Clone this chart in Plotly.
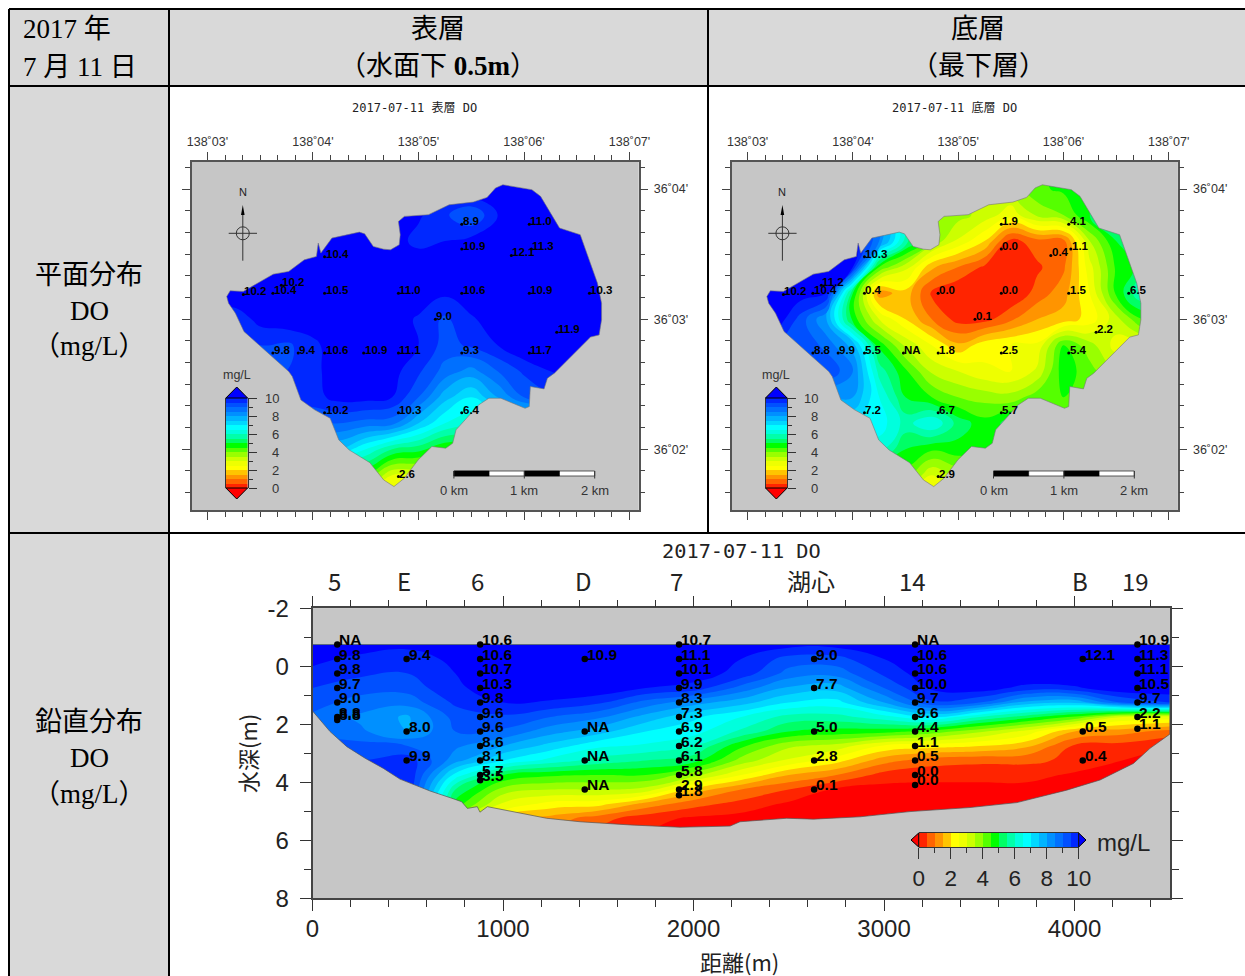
import plotly.graph_objects as go

W, H = 1245, 976

# ---------- data ----------
band_colors = ["#ff0000", "#ff2400", "#ff6400", "#ff9400", "#ffc400", "#ffff00", "#eeff00", "#ccff00",
               "#99ff00", "#55ff00", "#00ff00", "#00ff66", "#00ffaa", "#00ffdd", "#00ffff", "#00d8ff",
               "#00b4ff", "#0090ff", "#0070ff", "#0050ff", "#0028ff", "#0000ff"]
legend_levels = [0.25, 0.75, 1.25, 1.75, 2.25, 2.75, 3.25, 3.75, 4.25, 4.75, 5.25, 5.75, 6.25, 6.75,
                 7.25, 7.75, 8.25, 8.75, 9.25, 9.75]

grid_lon = [3.0, 3.25, 3.5, 3.75, 4.0, 4.25, 4.5, 4.75, 5.0, 5.25, 5.5, 5.75, 6.0, 6.25, 6.5, 6.75, 7.0]
grid_lat = [4.2, 4.0, 3.8, 3.6, 3.4, 3.2, 3.0, 2.8, 2.6, 2.4, 2.2, 2.0, 1.8, 1.6]

surface_grid = [
    [10.5, 10.5, 10.5, 10.5, 10.5, 10.5, 10.5, 10.5, 10.5, 10.5, 10.5, 10.5, 10.5, 10.5, 10.5, 10.5, 10.5],
    [10.5, 10.5, 10.5, 10.5, 10.5, 10.5, 10.5, 10.5, 10.5, 10.5, 10.5, 10.5, 10.5, 10.5, 10.5, 10.5, 10.5],
    [10.5, 10.5, 10.5, 10.5, 10.5, 10.5, 10.5, 10.5, 10.1, 9.6, 9.0, 10.0, 10.5, 10.5, 10.5, 10.5, 10.5],
    [10.5, 10.5, 10.5, 10.5, 10.5, 10.5, 10.5, 10.3, 9.8, 10.0, 10.2, 10.5, 10.5, 10.5, 10.5, 10.5, 10.5],
    [10.5, 10.5, 10.5, 10.5, 10.5, 10.5, 10.5, 10.5, 10.5, 10.5, 10.5, 10.5, 10.5, 10.5, 10.5, 10.5, 10.5],
    [10.5, 10.5, 10.5, 10.5, 10.5, 10.5, 10.5, 10.5, 10.5, 10.1, 10.5, 10.5, 10.5, 10.5, 10.5, 10.5, 10.5],
    [9.6, 9.6, 10.2, 10.4, 10.5, 10.5, 10.5, 10.4, 9.9, 9.4, 9.9, 10.4, 10.5, 10.5, 10.5, 10.5, 10.5],
    [9.4, 9.4, 9.5, 9.4, 9.8, 10.5, 10.5, 10.5, 10.0, 9.3, 9.6, 10.0, 10.5, 10.5, 10.5, 10.5, 10.5],
    [9.4, 9.4, 9.4, 9.5, 9.8, 10.4, 10.5, 10.2, 9.6, 8.8, 8.3, 9.0, 9.6, 10.0, 10.3, 10.5, 10.5],
    [9.6, 9.6, 9.6, 9.7, 9.8, 10.2, 10.2, 10.0, 9.0, 7.7, 7.0, 8.0, 9.0, 9.4, 9.5, 9.5, 9.5],
    [9.0, 9.0, 9.0, 9.0, 9.0, 9.0, 8.8, 8.7, 7.5, 6.5, 6.2, 6.5, 6.5, 6.5, 6.5, 6.5, 6.5],
    [7.5, 7.5, 7.5, 7.5, 7.5, 7.5, 6.5, 5.5, 5.2, 4.5, 4.5, 4.5, 4.5, 4.5, 4.5, 4.5, 4.5],
    [4.8, 4.8, 4.8, 4.8, 4.8, 4.8, 4.5, 3.0, 3.0, 3.0, 3.0, 3.0, 3.0, 3.0, 3.0, 3.0, 3.0],
    [2.5, 2.5, 2.5, 2.5, 2.5, 2.5, 2.5, 2.5, 2.5, 2.5, 2.5, 2.5, 2.5, 2.5, 2.5, 2.5, 2.5],
]

bottom_grid = [
    [10.5, 10.5, 10.5, 10.5, 10.5, 8.0, 5.0, 3.5, 3.5, 3.5, 3.5, 4.4, 4.6, 4.8, 5.0, 5.0, 5.0],
    [10.5, 10.5, 10.5, 10.5, 10.5, 8.0, 5.0, 3.6, 3.5, 3.5, 3.5, 4.4, 4.6, 4.8, 5.0, 5.0, 5.0],
    [10.5, 10.5, 10.5, 10.5, 10.5, 8.5, 5.5, 4.0, 3.7, 3.3, 2.7, 3.6, 4.0, 5.0, 5.5, 5.5, 5.5],
    [10.5, 10.5, 10.5, 10.5, 10.5, 8.5, 5.8, 3.9, 2.9, 2.0, 0.3, 0.8, 0.8, 3.5, 5.0, 5.5, 5.5],
    [11.0, 11.0, 11.0, 11.0, 10.0, 4.5, 3.2, 1.6, 1.0, 0.4, 0.1, 0.4, 0.9, 2.8, 4.6, 5.2, 5.2],
    [10.5, 10.5, 10.3, 10.0, 5.0, 1.2, 1.8, 0.4, 0.0, 0.1, 0.0, 0.7, 1.3, 2.5, 4.6, 6.0, 6.0],
    [10.5, 10.5, 9.3, 8.0, 4.8, 3.0, 2.0, 1.0, 0.3, 0.3, 0.9, 1.5, 1.7, 2.2, 3.3, 4.5, 4.5],
    [9.5, 9.5, 9.5, 8.8, 7.8, 4.8, 3.4, 2.5, 1.6, 2.3, 2.5, 2.6, 4.5, 3.7, 2.8, 2.8, 2.8],
    [9.5, 9.5, 9.5, 9.5, 8.5, 5.8, 4.6, 3.4, 3.0, 2.6, 2.5, 3.1, 4.8, 4.2, 3.5, 3.5, 3.5],
    [8.0, 8.0, 8.0, 8.0, 8.0, 6.5, 5.0, 4.5, 4.0, 3.8, 3.7, 4.3, 4.5, 4.5, 4.5, 4.5, 4.5],
    [7.0, 7.0, 7.0, 7.0, 7.0, 6.8, 5.8, 6.5, 5.3, 4.7, 5.2, 4.5, 4.5, 4.5, 4.5, 4.5, 4.5],
    [6.2, 6.2, 6.2, 6.2, 6.2, 6.2, 5.0, 4.6, 4.8, 4.7, 4.7, 4.7, 4.7, 4.7, 4.7, 4.7, 4.7],
    [4.3, 4.3, 4.3, 4.3, 4.3, 4.3, 4.3, 3.0, 3.6, 3.6, 3.6, 3.6, 3.6, 3.6, 3.6, 3.6, 3.6],
    [3.0, 3.0, 3.0, 3.0, 3.0, 3.0, 3.0, 3.0, 3.0, 3.0, 3.0, 3.0, 3.0, 3.0, 3.0, 3.0, 3.0],
]

lake_lon = [3.183, 3.216, 3.34, 3.50, 3.624, 3.77, 3.918, 4.033, 4.05, 4.075, 4.18, 4.44, 4.49, 4.572, 4.67,
            4.735, 4.817, 4.827, 4.81, 4.866, 5.095, 5.29, 5.52, 5.65, 5.73, 5.80, 6.075, 6.157, 6.337, 6.533,
            6.582, 6.696, 6.735, 6.735, 6.712, 6.63, 6.288, 6.222, 6.19, 6.06, 6.05, 6.01, 5.78, 5.667, 5.57,
            5.356, 5.324, 5.258, 5.127, 4.997, 4.866, 4.768, 4.67, 4.539, 4.343, 4.245, 4.163, 4.016, 3.886,
            3.804, 3.771, 3.592, 3.346, 3.265, 3.2, 3.183]
lake_lat = [3.174, 3.218, 3.213, 3.29, 3.346, 3.367, 3.456, 3.482, 3.585, 3.508, 3.623, 3.669, 3.656, 3.559, 3.538,
            3.533, 3.572, 3.649, 3.751, 3.79, 3.803, 3.879, 3.90, 3.936, 4.008, 4.033, 3.995, 3.944, 3.70, 3.649,
            3.533, 3.277, 3.123, 2.995, 2.879, 2.862, 2.585, 2.546, 2.464, 2.482, 2.328, 2.315, 2.392, 2.392, 2.341,
            2.149, 2.046, 2.008, 2.021, 1.918, 1.777, 1.713, 1.764, 1.897, 1.995, 2.072, 2.238, 2.303, 2.379,
            2.559, 2.597, 2.726, 2.905, 3.046, 3.123, 3.174]

station_lon = [3.34, 3.62, 3.70, 4.11, 4.11, 4.81, 5.41, 6.05, 6.62, 5.41, 6.05, 5.41, 6.07, 5.88,
               5.16, 6.31, 3.62, 3.86, 4.11, 4.48, 4.81, 5.41, 6.05, 4.11, 4.81, 5.41, 4.81]
station_lat = [3.19, 3.20, 3.26, 3.48, 3.20, 3.20, 3.20, 3.20, 3.20, 3.73, 3.73, 3.54, 3.54, 3.49,
               3.00, 2.90, 2.74, 2.74, 2.74, 2.74, 2.74, 2.74, 2.74, 2.28, 2.28, 2.28, 1.79]
surface_labels = ["10.2", "10.4", "10.2", "10.4", "10.5", "11.0", "10.6", "10.9", "10.3", "8.9", "11.0", "10.9",
                  "11.3", "12.1", "9.0", "11.9", "9.8", "9.4", "10.6", "10.9", "11.1", "9.3", "11.7", "10.2",
                  "10.3", "6.4", "2.6"]
bottom_labels = ["10.2", "10.4", "11.2", "10.3", "0.4", "0.0", "0.0", "1.5", "6.5", "1.9", "4.1", "0.0", "1.1",
                 "0.4", "0.1", "2.2", "8.8", "9.9", "5.5", "NA", "1.8", "2.5", "5.4", "7.2", "6.7", "5.7", "2.9"]

lon_ticks = [3, 4, 5, 6, 7]
lon_labels = ["138˚03'", "138˚04'", "138˚05'", "138˚06'", "138˚07'"]
lat_ticks = [2, 3, 4]
lat_labels = ["36˚02'", "36˚03'", "36˚04'"]

sec_x = [0, 250, 500, 750, 1000, 1250, 1500, 1750, 2000, 2250, 2500, 2750, 3000, 3250, 3500, 3750, 4000, 4250, 4500]
sec_depth = [-0.75, -0.25, 0.25, 0.75, 1.25, 1.75, 2.25, 2.75, 3.25, 3.75, 4.25, 4.75, 5.25, 5.75]
section_grid = [
    [10.3, 10.2, 10.2, 10.3, 10.5, 10.5, 10.5, 10.5, 10.5, 10.5, 10.2, 10.2, 10.5, 10.6, 10.6, 10.6, 10.6, 10.9, 10.9],
    [10.1, 9.9, 9.6, 10.2, 10.5, 10.5, 10.5, 10.5, 10.5, 10.0, 9.3, 9.3, 10.0, 10.6, 10.6, 10.6, 10.8, 11.0, 11.0],
    [9.9, 9.6, 9.5, 10.0, 10.5, 10.5, 10.5, 10.5, 10.3, 9.8, 8.8, 8.7, 9.6, 10.4, 10.6, 10.6, 10.6, 11.0, 10.8],
    [9.5, 9.2, 9.2, 9.9, 10.3, 10.5, 10.4, 10.0, 9.8, 8.8, 7.9, 7.7, 9.0, 10.1, 10.3, 9.8, 9.9, 10.4, 10.4],
    [9.2, 8.8, 8.7, 9.6, 10.0, 9.9, 9.6, 8.8, 8.2, 7.7, 7.0, 6.8, 8.0, 9.4, 9.0, 7.8, 7.6, 9.0, 9.5],
    [8.9, 8.4, 7.9, 9.2, 9.4, 9.0, 8.6, 7.8, 7.1, 6.5, 5.8, 5.8, 6.3, 7.0, 6.0, 5.2, 4.4, 3.0, 2.8],
    [8.9, 8.6, 8.0, 9.0, 8.9, 8.2, 7.7, 7.0, 6.7, 5.9, 5.0, 4.8, 4.7, 4.3, 3.6, 2.8, 1.5, 1.2, 0.8],
    [9.2, 9.2, 9.0, 8.6, 8.0, 7.3, 6.6, 6.4, 6.0, 4.6, 3.6, 3.3, 2.4, 2.2, 2.0, 1.6, 0.4, 0.3, 0.0],
    [9.5, 9.5, 9.8, 8.2, 7.0, 6.3, 5.8, 5.5, 5.2, 3.8, 2.9, 2.2, 1.2, 0.7, 0.6, 0.6, 0.4, 0.0, -0.2],
    [10.0, 10.0, 10.0, 6.8, 5.0, 4.6, 4.5, 4.5, 3.7, 2.5, 1.5, 1.0, 0.3, 0.2, 0.2, 0.2, -0.1, -0.2, -0.3],
    [10.0, 10.0, 10.0, 5.5, 3.8, 3.5, 3.5, 3.3, 1.8, 1.0, 0.5, -0.1, -0.2, -0.2, -0.2, -0.2, -0.2, -0.3, -0.3],
    [10.0, 10.0, 10.0, 4.8, 2.9, 2.3, 2.2, 1.3, 0.7, 0.3, -0.1, -0.2, -0.3, -0.3, -0.3, -0.3, -0.3, -0.3, -0.3],
    [10.0, 10.0, 10.0, 4.0, 2.0, 1.3, 0.7, 0.2, -0.1, -0.2, -0.3, -0.3, -0.3, -0.3, -0.3, -0.3, -0.3, -0.3, -0.3],
    [10.0, 10.0, 10.0, 4.0, 2.0, 1.0, 0.4, 0.0, -0.2, -0.3, -0.3, -0.3, -0.3, -0.3, -0.3, -0.3, -0.3, -0.3, -0.3],
]
bed_x = [0, 92, 180, 276, 372, 459, 617, 731, 783, 813, 865, 879, 918, 1054, 1229, 1404, 1667, 1929, 2192,
         2244, 2489, 2629, 2874, 3136, 3451, 3697, 3959, 4134, 4309, 4396, 4500]
bed_depth = [1.54, 2.25, 2.77, 3.17, 3.52, 3.89, 4.30, 4.55, 4.67, 4.90, 4.84, 5.03, 4.84, 5.01, 5.24, 5.36, 5.47,
             5.55, 5.51, 5.36, 5.24, 5.27, 5.19, 5.01, 4.87, 4.70, 4.27, 3.92, 3.35, 2.83, 2.34]
water_surface = -0.75

profile_x = [130, 494, 880, 1429, 1924, 2633, 3163, 4043, 4330]
profile_names = ["5", "E", "6", "D", "7", "湖心", "14", "B", "19"]
profile_depths = [
    [-0.75, -0.25, 0.25, 0.75, 1.25, 1.75, 1.85],
    [-0.25, 2.25, 3.25],
    [-0.75, -0.25, 0.25, 0.75, 1.25, 1.75, 2.25, 2.75, 3.25, 3.75, 3.93],
    [-0.25, 2.25, 3.25, 4.25],
    [-0.75, -0.25, 0.25, 0.75, 1.25, 1.75, 2.25, 2.75, 3.25, 3.75, 4.25, 4.45],
    [-0.25, 0.75, 2.25, 3.25, 4.25],
    [-0.75, -0.25, 0.25, 0.75, 1.25, 1.75, 2.25, 2.75, 3.25, 3.75, 4.09],
    [-0.25, 2.25, 3.25],
    [-0.75, -0.25, 0.25, 0.75, 1.25, 1.75, 2.15],
]
profile_labels = [
    ["NA", "9.8", "9.8", "9.7", "9.0", "8.8", "8.8"],
    ["9.4", "8.0", "9.9"],
    ["10.6", "10.6", "10.7", "10.3", "9.8", "9.6", "9.6", "8.6", "8.1", "5.7", "3.5"],
    ["10.9", "NA", "NA", "NA"],
    ["10.7", "11.1", "10.1", "9.9", "8.3", "7.3", "6.9", "6.2", "6.1", "5.8", "2.9", "1.8"],
    ["9.0", "7.7", "5.0", "2.8", "0.1"],
    ["NA", "10.6", "10.6", "10.0", "9.7", "9.6", "4.4", "1.1", "0.5", "0.0", "0.0"],
    ["12.1", "0.5", "0.4"],
    ["10.9", "11.3", "11.1", "10.5", "9.7", "2.2", "1.1"],
]
scale_km = [0, 1, 2]

# ---------- helpers ----------
GREY = "#c6c6c6"
SERIF = "Liberation Serif, Noto Sans CJK JP"
SANS = "Liberation Sans, Arimo, sans-serif"
CJK = "Noto Sans CJK JP"
MONO = "DejaVu Sans Mono, Noto Sans CJK JP"
TXT = "#222222"
colorscale = [[i / (len(band_colors) - 1), c] for i, c in enumerate(band_colors)]


def fx(p):
    return p / W


def fy(p):
    return 1 - p / H


def dom_x(a, b):
    return [fx(a), fx(b)]


def dom_y(top, bottom):
    return [fy(bottom), fy(top)]


fig = go.Figure()
shapes, annots = [], []


def line(x0, y0, x1, y1, color="black", width=1.0):
    shapes.append(dict(type="line", xref="paper", yref="paper", x0=fx(x0), y0=fy(y0), x1=fx(x1), y1=fy(y1),
                       line=dict(color=color, width=width)))


def rect(x0, y0, x1, y1, fill, color=None, width=0, layer="above"):
    shapes.append(dict(type="rect", xref="paper", yref="paper", x0=fx(x0), y0=fy(y0), x1=fx(x1), y1=fy(y1),
                       fillcolor=fill, line=dict(color=color or fill, width=width), layer=layer))


def tri(points, fill):
    d = "M " + " L ".join(f"{fx(a)},{fy(b)}" for a, b in points) + " Z"
    shapes.append(dict(type="path", xref="paper", yref="paper", path=d, fillcolor=fill,
                       line=dict(color="black", width=1)))


def text(x, y, s, size, family=SANS, color=TXT, anchor="center", **kw):
    annots.append(dict(xref="paper", yref="paper", x=fx(x), y=fy(y), text=s, showarrow=False, xanchor=anchor,
                       yanchor="middle", borderpad=0, font=dict(size=size, family=family, color=color), **kw))


# ---------- table ----------
rect(9, 9, 1245, 86, "#d9d9d9", layer="below")
rect(9, 86, 169, 976, "#d9d9d9", layer="below")
for a, b, c, d in [(9, 9, 1245, 9), (9, 86, 1245, 86), (169, 533, 1245, 533), (9, 533, 169, 533),
                   (9, 9, 9, 976), (169, 9, 169, 976), (708, 9, 708, 533)]:
    line(a, b, c, d, "black", 2)

text(22, 29, "2017 年", 27, SERIF, "black", anchor="left")
text(22, 67, "7 月 11 日", 27, SERIF, "black", anchor="left")
text(438, 29, "表層", 27, SERIF, "black")
text(438, 66, "（水面下 <b>0.5m</b>）", 27, SERIF, "black")
text(978, 29, "底層", 27, SERIF, "black")
text(978, 66, "（最下層）", 27, SERIF, "black")
for yy, s in [(275, "平面分布"), (311, "DO"), (346, "（mg/L）"), (722, "鉛直分布"), (758, "DO"), (794, "（mg/L）")]:
    text(89, yy, s, 27, SERIF, "black")


# ---------- map panels ----------
def map_panel(n, left, right, z, labels, title, title_x):
    xa, ya = f"x{n}", f"y{n}"
    ticks = dict(ticks="outside", mirror="allticks", showline=True, linecolor="#555555", linewidth=1.5,
                 tickcolor="#444444", showgrid=False, zeroline=False, tickwidth=1,
                 tickfont=dict(size=12.5, family=SANS, color="#333333"))
    fig.update_layout(**{
        f"xaxis{n}": dict(domain=dom_x(left, right), range=[2.851, 7.085], side="top", anchor=ya, tickmode="array",
                          tickvals=lon_ticks, ticktext=lon_labels, ticklen=8, ticklabelstandoff=1,
                          minor=dict(tickmode="array", tickvals=[3 + i / 6 for i in range(25)], ticklen=5,
                                     ticks="outside", tickcolor="#444444"), **ticks),
        f"yaxis{n}": dict(domain=dom_y(162, 510), range=[1.533, 4.208], side="right", anchor=xa, tickmode="array",
                          tickvals=lat_ticks, ticktext=lat_labels, ticklen=8, ticklabelstandoff=3,
                          minor=dict(tickmode="array", tickvals=[1.5 + i / 6 for i in range(18)], ticklen=5,
                                     ticks="outside", tickcolor="#444444"), **ticks),
    })
    fig.add_trace(go.Contour(x=grid_lon, y=grid_lat, z=z, xaxis=xa, yaxis=ya, colorscale=colorscale, showscale=False,
                             autocontour=False, contours=dict(start=0, end=10, size=0.5, coloring="fill",
                                                              showlines=False),
                             line=dict(width=0, smoothing=1.3), hoverinfo="skip"))
    fig.add_trace(go.Scatter(x=[2.7, 7.2, 7.2, 2.7, 2.7, None] + lake_lon,
                             y=[1.4, 1.4, 4.4, 4.4, 1.4, None] + lake_lat,
                             xaxis=xa, yaxis=ya, mode="lines", fill="toself", fillcolor=GREY,
                             line=dict(color="#777777", width=0.6), hoverinfo="skip"))
    fig.add_trace(go.Scatter(x=station_lon, y=station_lat, xaxis=xa, yaxis=ya, mode="markers",
                             marker=dict(color="black", size=3), hoverinfo="skip"))
    for a, b, s in zip(station_lon, station_lat, labels):
        annots.append(dict(xref=xa, yref=ya, x=a, y=b, text=f"<b>{s}</b>", showarrow=False, xanchor="left",
                           yanchor="middle", yshift=3, xshift=0, borderpad=0,
                           font=dict(size=11.5, family=SANS, color="black")))
    text(title_x, 108, title, 12, MONO, "#222222")


map_panel(1, 191.7, 638.5, surface_grid, surface_labels, "2017-07-11 表層 DO", 414)
map_panel(2, 731.9, 1177.7, bottom_grid, bottom_labels, "2017-07-11 底層 DO", 954)


# ---------- map decorations ----------
def map_deco(dx, n):
    cx, cy = 242.8 + dx, 233.3
    shapes.append(dict(type="circle", xref="paper", yref="paper", x0=fx(cx - 6.5), y0=fy(cy - 6.5), x1=fx(cx + 6.5),
                       y1=fy(cy + 6.5), line=dict(color="#333333", width=1)))
    line(cx, 212, cx, 260.7, "#333333", 1)
    line(228.7 + dx, cy, 257 + dx, cy, "#333333", 1)
    shapes.append(dict(type="path", xref="paper", yref="paper", fillcolor="black",
                       path=f"M {fx(cx)},{fy(205)} L {fx(cx + 1.8)},{fy(215)} L {fx(cx - 1.8)},{fy(215)} Z",
                       line=dict(width=0)))
    text(cx, 192, "N", 11, SANS, "#222222")
    # scale bar
    sx = 453.9 + dx
    unit = 70.4
    rect(sx, 471, sx + 2 * unit, 476, "white", "#333333", 0.8)
    for k in (0, 1):
        rect(sx + k * unit, 471, sx + (k + 0.5) * unit, 476, "black", "black", 0.5)
    for km in scale_km:
        line(sx + km * unit, 471, sx + km * unit, 478.5, "#333333", 1)
        text(sx + km * unit, 491, f"{km} km", 13, SANS, "#333333")
    # colour legend
    lx0, lx1 = 225.9 + dx, 247.6 + dx
    xa, ya = f"x{n}", f"y{n}"
    fig.update_layout(**{
        f"xaxis{n}": dict(domain=dom_x(lx0, lx1), range=[0, 1], visible=False, anchor=ya, fixedrange=True),
        f"yaxis{n}": dict(domain=dom_y(398, 488), range=[0, 10], anchor=xa, side="right", showline=True, mirror=True,
                          linecolor="#333333", linewidth=1.2, ticks="outside", tickvals=[0, 2, 4, 6, 8, 10],
                          ticklen=8, tickcolor="#333333", showticklabels=False, showgrid=False, zeroline=False,
                          minor=dict(tickvals=[1, 3, 5, 7, 9], ticklen=4, ticks="outside", tickcolor="#333333")),
    })
    fig.add_trace(go.Heatmap(x=[0.5], y=legend_levels, z=[[v] for v in legend_levels], xaxis=xa, yaxis=ya,
                             colorscale=colorscale, zmin=-0.25, zmax=10.25, showscale=False, hoverinfo="skip",
                             xgap=0, ygap=0))
    tri([(lx0, 398), (lx1, 398), ((lx0 + lx1) / 2, 387)], "#0000ff")
    tri([(lx0, 488), (lx1, 488), ((lx0 + lx1) / 2, 499)], "#ff0000")
    for v in [0, 2, 4, 6, 8, 10]:
        text(279.5 + dx, 488 - v * 9, str(v), 13, SANS, "#333333", anchor="right")
    text(236.5 + dx, 375, "mg/L", 12.5, SANS, "#333333")


map_deco(0, 4)
map_deco(539.6, 5)

# ---------- section ----------
fig.update_layout(
    xaxis3=dict(domain=dom_x(312.5, 1170), range=[0, 4501], anchor="y3", side="bottom", tickmode="array",
                tickvals=[0, 1000, 2000, 3000, 4000], ticks="outside", ticklen=11, mirror="allticks", showline=True,
                linecolor="#444444", linewidth=1.6, tickcolor="#333333", showgrid=False, zeroline=False,
                ticklabelstandoff=-3, tickfont=dict(size=24, family=SANS, color=TXT),
                minor=dict(tickmode="array", tickvals=[i * 200 for i in range(23)], ticklen=7, ticks="outside",
                           tickcolor="#333333")),
    yaxis3=dict(domain=dom_y(608.3, 898.3), range=[8, -2], anchor="x3", side="left", tickmode="array",
                tickvals=[-2, 0, 2, 4, 6, 8], ticktext=["-2", "0", "2", "4", "6", "8"], ticks="outside", ticklen=11,
                mirror="allticks", showline=True,
                linecolor="#444444", linewidth=1.6, tickcolor="#333333", showgrid=False, zeroline=False,
                ticklabelstandoff=6, tickfont=dict(size=24, family=SANS, color=TXT),
                minor=dict(tickmode="array", tickvals=[-1, 1, 3, 5, 7], ticklen=7, ticks="outside",
                           tickcolor="#333333")),
)
fig.add_trace(go.Contour(x=sec_x, y=sec_depth, z=section_grid, xaxis="x3", yaxis="y3", colorscale=colorscale,
                         showscale=False, autocontour=False,
                         contours=dict(start=0, end=10, size=0.5, coloring="fill", showlines=False),
                         line=dict(width=0, smoothing=1.3), hoverinfo="skip"))
fig.add_trace(go.Scatter(
    x=[-100, 4700, 4700, -100, -100, None, 0, 4501] + bed_x[::-1] + [0],
    y=[8.5, 8.5, -2.5, -2.5, 8.5, None, water_surface, water_surface] + bed_depth[::-1] + [water_surface],
    xaxis="x3", yaxis="y3", mode="lines", fill="toself", fillcolor=GREY, line=dict(color="#555555", width=0.7),
    hoverinfo="skip"))
all_x, all_y = [], []
for px_, ds, ls in zip(profile_x, profile_depths, profile_labels):
    for d, s in zip(ds, ls):
        all_x.append(px_)
        all_y.append(d)
        annots.append(dict(xref="x3", yref="y3", x=px_, y=d, text=f"<b>{s}</b>", showarrow=False, xanchor="left",
                           yanchor="middle", yshift=5, xshift=1, borderpad=0,
                           font=dict(size=15.5, family=SANS, color="black")))
fig.add_trace(go.Scatter(x=all_x, y=all_y, xaxis="x3", yaxis="y3", mode="markers",
                         marker=dict(color="black", size=6.5), hoverinfo="skip"))
offsets = [-3, -3, -3, -1, -3, -3, -3, -3, -2]
for px_, name, off in zip(profile_x, profile_names, offsets):
    annots.append(dict(xref="x3", yref="paper", x=px_, y=fy(580), text=name, showarrow=False, xanchor="center",
                       yanchor="middle", xshift=off, font=dict(size=24, family=CJK, color=TXT)))
text(741, 551, "2017-07-11 DO", 20.3, MONO, TXT)
text(740, 961, "距離(m)", 22, CJK, TXT)
annots.append(dict(xref="paper", yref="paper", x=fx(247), y=fy(754), text="水深(m)", textangle=-90, showarrow=False,
                   xanchor="center", yanchor="middle", font=dict(size=22, family=CJK, color=TXT)))

# horizontal legend
fig.update_layout(
    xaxis6=dict(domain=dom_x(918.7, 1078.7), range=[0, 10], anchor="y6", side="bottom", showline=True, mirror=True,
                linecolor="#333333", linewidth=1.2, ticks="outside", tickvals=[0, 2, 4, 6, 8, 10], ticklen=11,
                tickcolor="#333333", showticklabels=True, showgrid=False, zeroline=False, ticklabelstandoff=0,
                tickfont=dict(size=22.5, family=SANS, color=TXT),
                minor=dict(tickvals=[1, 3, 5, 7, 9], ticklen=5, ticks="outside", tickcolor="#333333")),
    yaxis6=dict(domain=dom_y(833, 847), range=[0, 1], visible=False, anchor="x6", fixedrange=True),
)
fig.add_trace(go.Heatmap(x=legend_levels, y=[0.5], z=[legend_levels], xaxis="x6", yaxis="y6", colorscale=colorscale,
                         zmin=-0.25, zmax=10.25, showscale=False, hoverinfo="skip"))
tri([(918.7, 833), (918.7, 847), (911, 840)], "#ff0000")
tri([(1078.7, 833), (1078.7, 847), (1086, 840)], "#0000ff")
text(1123, 842, "mg/L", 24, SANS, TXT)

fig.update_layout(width=W, height=H, margin=dict(l=0, r=0, t=0, b=0, autoexpand=False), showlegend=False,
                  paper_bgcolor="white", plot_bgcolor=GREY, shapes=shapes, annotations=annots)

fig.write_html("out.html", config={"displayModeBar": False},
               post_script="document.body.style.margin='0';document.body.style.overflow='hidden';")
